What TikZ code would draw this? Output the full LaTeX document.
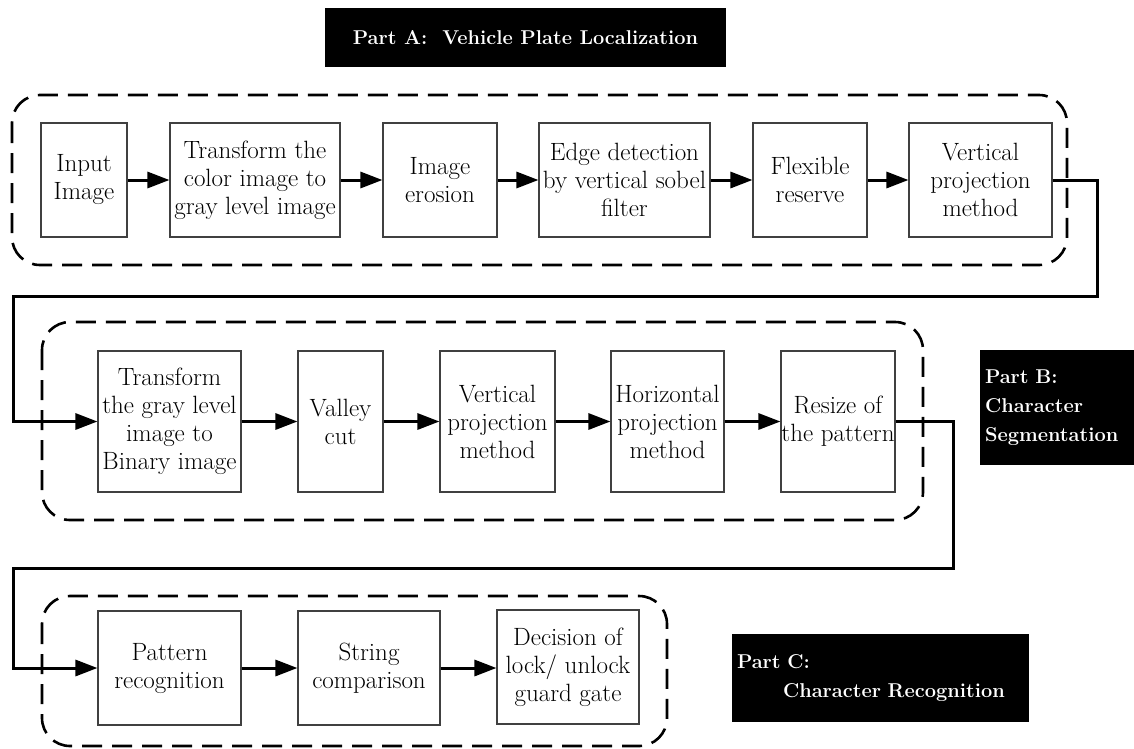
\documentclass[tikz,border=0pt]{standalone}
\usepackage{fontspec}
\setmainfont{Latin Modern Roman}
\usetikzlibrary{arrows.meta}
\tikzset{
  stage/.style={draw=black!75, line width=1.1pt, align=center, inner sep=0pt,
    font=\fontsize{25}{28}\selectfont},
  flow/.style={line width=3pt, -{Triangle[length=22pt,width=16pt]}},
  group/.style={line width=2.6pt, dash pattern=on 20pt off 10pt, rounded corners=28pt},
  tag/.style={fill=black, text=white, inner ysep=0pt, inner xsep=5pt,
    font=\fontsize{20}{29}\selectfont\bfseries},
}

\begin{document}
\begin{tikzpicture}[x=1pt,y=-1pt]
  \useasboundingbox (0,0) rectangle (1134,748);

  \draw[group] (12,95) rectangle (1067,265);
  \draw[group] (42,322) rectangle (923,520);
  \draw[group] (42,596) rectangle (667,746);

  % localization
  \node[stage, minimum width=86pt,  minimum height=114pt] (inA)    at (84,180)    {Input\\Image};
  \node[stage, minimum width=170pt, minimum height=114pt] (grayA)  at (255,180)   {Transform the\\color image to\\gray level image};
  \node[stage, minimum width=114pt, minimum height=114pt] (eroA)   at (440,180)   {Image\\erosion};
  \node[stage, minimum width=171pt, minimum height=114pt] (edgeA)  at (624.5,180) {Edge detection\\by vertical sobel\\filter};
  \node[stage, minimum width=114pt, minimum height=114pt] (flexA)  at (810,180)   {Flexible\\reserve};
  \node[stage, minimum width=143pt, minimum height=114pt] (vprojA) at (980.5,180) {Vertical\\projection\\method};

  % segmentation
  \node[stage, minimum width=143pt, minimum height=141pt] (binB)   at (169.5,421.5) {Transform\\the gray level\\image to\\Binary image};
  \node[stage, minimum width=85pt,  minimum height=141pt] (valB)   at (340.5,421.5) {Valley\\cut};
  \node[stage, minimum width=115pt, minimum height=141pt] (vprojB) at (497.5,421.5) {Vertical\\projection\\method};
  \node[stage, minimum width=113pt, minimum height=141pt] (hprojB) at (667.5,421.5) {Horizontal\\projection\\method};
  \node[stage, minimum width=114pt, minimum height=141pt] (resB)   at (838,421.5)   {Resize of\\the pattern};

  % recognition
  \node[stage, minimum width=143pt, minimum height=114pt] (patC) at (169.5,668) {Pattern\\recognition};
  \node[stage, minimum width=142pt, minimum height=114pt] (strC) at (369,668)   {String\\comparison};
  \node[stage, minimum width=142pt, minimum height=114pt] (decC) at (568,667)   {Decision of\\lock/ unlock\\guard gate};

  \foreach \a/\b in {inA/grayA, grayA/eroA, eroA/edgeA, edgeA/flexA, flexA/vprojA,
                     binB/valB, valB/vprojB, vprojB/hprojB, hprojB/resB,
                     patC/strC, strC/decC}
    \draw[flow] (\a.east) -- (\a.east -| \b.west);

  \coordinate (ab1) at (1097,296);
  \coordinate (ab2) at (13,296);
  \draw[flow] (vprojA.east) -| (ab1) -- (ab2) |- (binB.west);

  \coordinate (bc1) at (953,568);
  \coordinate (bc2) at (13,568);
  \draw[flow] (resB.east) -| (bc1) -- (bc2) |- (patC.west);

  \node[tag, minimum width=401pt, minimum height=59pt] (tagA) at (525.5,37.5)
    {Part A:\ \ Vehicle Plate Localization};
  \node[tag, text width=144pt, minimum height=115pt, align=left] (tagB) at (1057,407.5)
    {Part B:\\Character\\Segmentation};
  \node[tag, text width=287pt, minimum height=88pt, align=left] (tagC) at (880.5,678)
    {Part C:\\\hspace*{46pt}\mbox{Character Recognition}};
\end{tikzpicture}
\end{document}
